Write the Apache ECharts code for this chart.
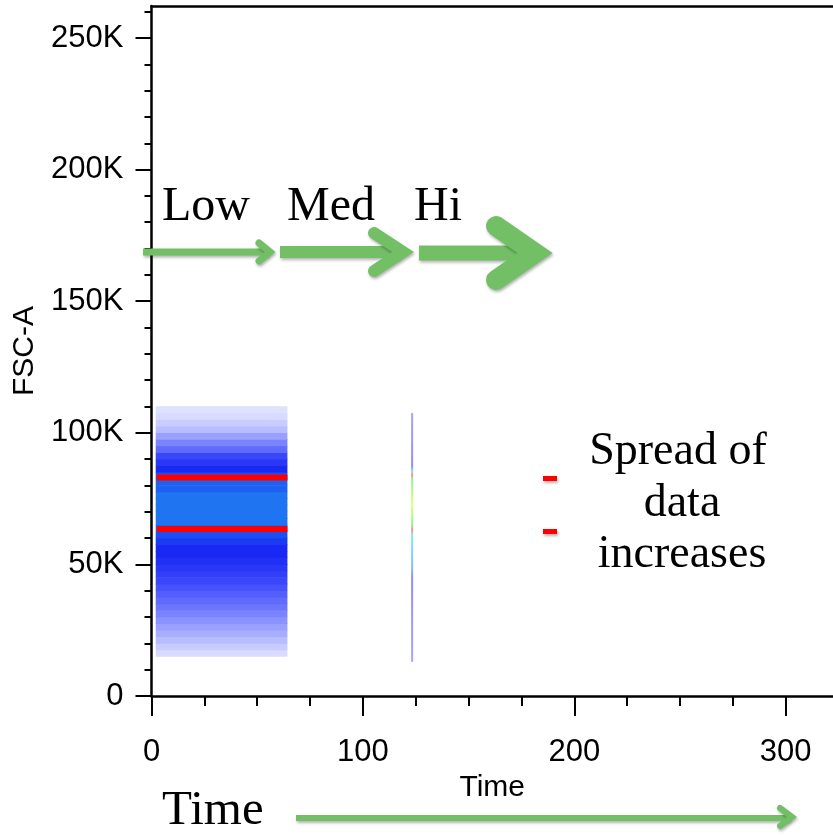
<!DOCTYPE html>
<html>
<head>
<meta charset="utf-8">
<script src="https://cdn.jsdelivr.net/npm/echarts@6/dist/echarts.min.js"></script>
<style>
  html, body { margin: 0; padding: 0; background: #fff; }
  #chart { width: 833px; height: 835px; }
</style>
</head>
<body>
<div id="chart"></div>
<script>
// FSC-A bands (lower edge, K) and relative event density (0-10) in the "Low" run
const fscBandLowK = [15, 17.5, 20, 22.5, 25, 27.5, 30, 32.5, 35, 37.5,
    40, 42.5, 45, 47.5, 50, 52.5, 55, 57.5, 60, 62.5,
    65, 67.5, 70, 72.5, 75, 77.5, 80, 82.5, 85, 87.5,
    90, 92.5, 95, 97.5, 100, 102.5, 105, 107.5];
const fscBandDensity = [0.5, 1, 1.5, 2, 2.5, 3, 3.5, 4, 4.5, 5,
    5.5, 6, 6.5, 7, 7.5, 8, 8, 8.5, 9, 9.5,
    10, 10, 10, 10, 10, 9.5, 9.5, 9, 8, 7,
    6, 4.5, 3.5, 2.5, 1.5, 1, 0.5, 0.3];
const bandWidthK = 2.5;
const lowTimeRange = [2, 64.3];

// red gate lines
const gateLevels = [83000, 63400];
const gateTimeRange = [2.5, 64.3];

// "Hi" run: events squeezed at one time point
const hiTime = 123.3;
const hiFscRange = [13000, 107500];

const timeMax = 322.4;
const fscMax = 262144;
const timeTicks = [0, 100, 200, 300];
const timeMinorTicks = [25, 50, 75, 125, 150, 175, 225, 250, 275];
const fscTicks = [0, 50000, 100000, 150000, 200000, 250000];
const fscMinorTicks = [10000, 20000, 30000, 40000, 60000, 70000, 80000, 90000,
    110000, 120000, 130000, 140000, 160000, 170000, 180000, 190000,
    210000, 220000, 230000, 240000, 260000];

const sans = '"Liberation Sans", Arial, sans-serif';
const serif = '"Liberation Serif", "Times New Roman", serif';
const green = '#72bf66';

const chart = echarts.init(document.getElementById('chart'));

const cells = fscBandLowK.map((lo, i) => [
    lowTimeRange[0], lowTimeRange[1], lo * 1000, (lo + bandWidthK) * 1000, fscBandDensity[i]
]);

function tickAxis(extra) {
    return Object.assign({
        type: 'value',
        splitLine: { show: false },
        axisLine: { onZero: false, lineStyle: { color: '#000', width: 2.5 } },
        axisTick: { lineStyle: { color: '#000', width: 2 } },
        axisLabel: { color: '#000', fontSize: 31, fontFamily: sans }
    }, extra);
}

const shadow = { shadowColor: 'rgba(0,0,0,0.3)', shadowBlur: 3, shadowOffsetX: 1, shadowOffsetY: 2 };

function arrow(shaft, head, width, headWidth) {
    return [
        {
            type: 'line',
            shape: { x1: shaft[0], y1: shaft[1], x2: shaft[2], y2: shaft[3] },
            style: Object.assign({ stroke: green, lineWidth: width, lineCap: 'butt' }, shadow),
            z: 100
        },
        {
            type: 'polyline',
            shape: { points: head },
            style: Object.assign({ stroke: green, fill: null, lineWidth: headWidth, lineCap: 'round', lineJoin: 'miter' }, shadow),
            z: 100
        }
    ];
}

function label(text, x, y, size, align) {
    return {
        type: 'text', x: x, y: y, z: 100,
        style: { text: text, font: size + 'px ' + serif, fill: '#000', align: align || 'left', verticalAlign: 'middle' }
    };
}

chart.setOption({
    animation: false,
    grid: { left: 151.5, right: 0, top: 6, bottom: 139, containLabel: false, outerBoundsMode: 'none' },
    xAxis: [
        tickAxis({
            min: 0, max: timeMax, interval: 100, position: 'bottom',
            name: 'Time', nameLocation: 'middle', nameGap: 74,
            nameTextStyle: { color: '#000', fontSize: 30, fontFamily: sans },
            axisTick: { customValues: timeTicks, length: 20, lineStyle: { color: '#000', width: 2 } },
            axisLabel: { customValues: timeTicks, margin: 41, color: '#000', fontSize: 31, fontFamily: sans }
        }),
        tickAxis({
            min: 0, max: timeMax, position: 'bottom',
            axisLine: { show: false, onZero: false },
            axisTick: { customValues: timeMinorTicks, length: 10, lineStyle: { color: '#000', width: 2 } },
            axisLabel: { show: false }
        }),
        tickAxis({
            min: 0, max: timeMax, position: 'top',
            axisTick: { show: false },
            axisLabel: { show: false }
        })
    ],
    yAxis: [
        tickAxis({
            min: 0, max: fscMax, interval: 50000, position: 'left',
            name: 'FSC-A', nameLocation: 'middle', nameGap: 108, nameRotate: 90,
            nameTextStyle: { color: '#000', fontSize: 30, fontFamily: sans },
            axisTick: { customValues: fscTicks, length: 16, lineStyle: { color: '#000', width: 2 } },
            axisLabel: {
                customValues: fscTicks, margin: 28, color: '#000', fontSize: 31, fontFamily: sans,
                formatter: v => v === 0 ? '0' : (v / 1000) + 'K'
            }
        }),
        tickAxis({
            min: 0, max: fscMax, position: 'left',
            axisLine: { show: false, onZero: false },
            axisTick: { customValues: fscMinorTicks, length: 7, lineStyle: { color: '#000', width: 2 } },
            axisLabel: { show: false }
        })
    ],
    visualMap: {
        show: false,
        type: 'continuous',
        seriesIndex: 0,
        dimension: 4,
        min: 0,
        max: 10,
        inRange: { color: ['#e8eaff', '#a8aeff', '#6c76fd', '#3a46fa', '#1a28f4', '#1f74f1'] }
    },
    series: [
        {
            type: 'custom',
            renderItem: (params, api) => {
                const a = api.coord([api.value(0), api.value(3)]);
                const b = api.coord([api.value(1), api.value(2)]);
                return {
                    type: 'rect',
                    shape: { x: a[0], y: a[1] - 0.3, width: b[0] - a[0], height: b[1] - a[1] + 0.6 },
                    style: { fill: api.visual('color') }
                };
            },
            encode: { x: [0, 1], y: [2, 3] },
            data: cells,
            z: 2
        },
        ...gateLevels.map(level => ({
            type: 'line',
            data: [[gateTimeRange[0], level], [gateTimeRange[1], level]],
            symbol: 'none',
            lineStyle: { color: '#ff0000', width: 6 },
            z: 4
        })),
        {
            type: 'line',
            data: [[hiTime, hiFscRange[0]], [hiTime, hiFscRange[1]]],
            symbol: 'none',
            lineStyle: {
                width: 2,
                color: new echarts.graphic.LinearGradient(0, 0, 0, 1, [
                    { offset: 0, color: '#a6a6ff' },
                    { offset: 0.22, color: '#8c8cff' },
                    { offset: 0.24, color: '#80e0ff' },
                    { offset: 0.255, color: '#ff8a8a' },
                    { offset: 0.27, color: '#90f890' },
                    { offset: 0.37, color: '#e0ff80' },
                    { offset: 0.45, color: '#90f890' },
                    { offset: 0.47, color: '#ff8a8a' },
                    { offset: 0.49, color: '#80e8ff' },
                    { offset: 0.62, color: '#80c0ff' },
                    { offset: 0.66, color: '#8c8cff' },
                    { offset: 1, color: '#a6a6ff' }
                ])
            },
            z: 3
        }
    ],
    graphic: [
        label('Low', 162, 207, 48),
        label('Med', 287, 207, 48),
        label('Hi', 414, 207, 48),
        ...arrow([143, 252, 268, 252], [[259, 243], [270, 252], [259, 261]], 7, 7),
        ...arrow([280, 252, 400, 252], [[374, 233], [403, 252], [374, 271]], 12, 12),
        ...arrow([419, 253, 530, 253], [[496, 226], [535, 253], [496, 280]], 15, 20),
        label('Spread of', 678, 452, 46, 'center'),
        label('data', 682, 504, 46, 'center'),
        label('increases', 682, 555, 46, 'center'),
        {
            type: 'rect', z: 100,
            shape: { x: 543, y: 476, width: 14, height: 5 },
            style: Object.assign({ fill: '#ff0000' }, shadow)
        },
        {
            type: 'rect', z: 100,
            shape: { x: 543, y: 529, width: 14, height: 5 },
            style: Object.assign({ fill: '#ff0000' }, shadow)
        },
        label('Time', 162, 811, 49),
        ...arrow([296, 818, 790, 818], [[780, 808], [792, 817], [780, 826]], 6, 6)
    ]
});
</script>
</body>
</html>
